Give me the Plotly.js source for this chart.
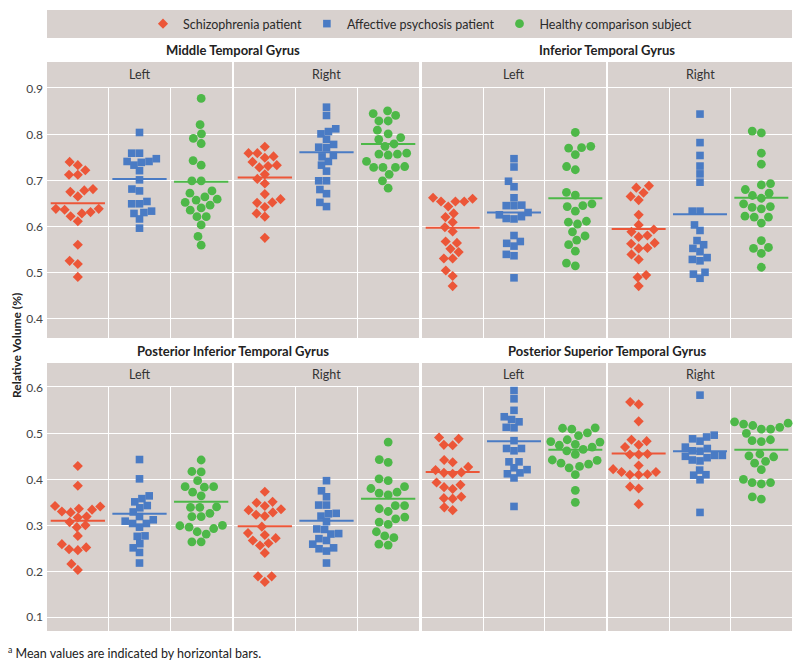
<!DOCTYPE html>
<html>
<head>
<meta charset="utf-8">
<script src="https://cdn.plot.ly/plotly-3.0.1.min.js"></script>
<style>html,body{margin:0;padding:0;background:#fff;}#chart{width:800px;height:666px;}</style>
</head>
<body>
<div id="chart"></div>
<script>
// ---------- DATA ----------
const regions = ["Middle Temporal Gyrus", "Inferior Temporal Gyrus", "Posterior Inferior Temporal Gyrus", "Posterior Superior Temporal Gyrus"];
const sides = ["Left", "Right"];
const groups = ["Schizophrenia patient", "Affective psychosis patient", "Healthy comparison subject"];
const yTicksTop = [0.4, 0.5, 0.6, 0.7, 0.8, 0.9];
const yTicksBottom = [0.1, 0.2, 0.3, 0.4, 0.5, 0.6];
const yTitle = "Relative Volume (%)";
const footnote = "<sup>a</sup> Mean values are indicated by horizontal bars.";

// Middle Temporal Gyrus
const mtgLeftSchiz = [0.740,0.733,0.722,0.712,0.712,0.681,0.678,0.675,0.665,0.638,0.638,0.636,0.631,0.628,0.622,0.611,0.560,0.525,0.518,0.490];
const mtgLeftAff = [0.804,0.759,0.759,0.747,0.741,0.741,0.739,0.733,0.721,0.701,0.681,0.677,0.654,0.649,0.649,0.633,0.630,0.628,0.616,0.596];
const mtgLeftHealthy = [0.878,0.821,0.801,0.791,0.780,0.743,0.733,0.699,0.699,0.677,0.672,0.664,0.659,0.657,0.652,0.646,0.640,0.635,0.621,0.621,0.603,0.578,0.559];
const mtgLeftMeans = [0.650, 0.703, 0.697];
const mtgRightSchiz = [0.773,0.759,0.759,0.752,0.749,0.740,0.733,0.731,0.728,0.713,0.703,0.693,0.670,0.659,0.652,0.651,0.642,0.628,0.621,0.575];
const mtgRightAff = [0.859,0.841,0.812,0.806,0.801,0.789,0.778,0.772,0.771,0.754,0.751,0.741,0.733,0.720,0.699,0.699,0.680,0.671,0.652,0.643];
const mtgRightHealthy = [0.851,0.845,0.841,0.829,0.829,0.809,0.801,0.793,0.789,0.779,0.774,0.759,0.757,0.757,0.755,0.741,0.730,0.728,0.728,0.728,0.713,0.699,0.683];
const mtgRightMeans = [0.706, 0.761, 0.779];

// Inferior Temporal Gyrus
const itgLeftSchiz = [0.662,0.660,0.654,0.654,0.654,0.643,0.628,0.620,0.609,0.598,0.589,0.567,0.564,0.551,0.544,0.530,0.530,0.504,0.492,0.470];
const itgLeftAff = [0.747,0.729,0.698,0.686,0.662,0.646,0.645,0.645,0.630,0.625,0.621,0.617,0.616,0.580,0.567,0.563,0.557,0.539,0.536,0.488];
const itgLeftHealthy = [0.804,0.774,0.771,0.770,0.756,0.730,0.723,0.674,0.668,0.649,0.645,0.643,0.633,0.611,0.609,0.605,0.588,0.579,0.570,0.560,0.546,0.520,0.514];
const itgLeftMeans = [0.597, 0.630, 0.661];
const itgRightSchiz = [0.688,0.684,0.673,0.665,0.657,0.625,0.603,0.593,0.588,0.580,0.577,0.564,0.562,0.553,0.552,0.539,0.528,0.494,0.489,0.470];
const itgRightAff = [0.844,0.782,0.754,0.731,0.714,0.696,0.633,0.633,0.603,0.591,0.569,0.560,0.552,0.545,0.532,0.528,0.525,0.500,0.496,0.487];
const itgRightHealthy = [0.807,0.803,0.759,0.735,0.693,0.690,0.680,0.672,0.667,0.661,0.649,0.643,0.641,0.638,0.622,0.620,0.620,0.607,0.569,0.554,0.552,0.541,0.511];
const itgRightMeans = [0.594, 0.626, 0.662];

// Posterior Inferior Temporal Gyrus
const pitgLeftSchiz = [0.429,0.386,0.342,0.341,0.336,0.334,0.330,0.328,0.319,0.317,0.307,0.300,0.296,0.277,0.259,0.252,0.248,0.246,0.216,0.203];
const pitgLeftAff = [0.443,0.401,0.364,0.358,0.351,0.343,0.338,0.329,0.319,0.312,0.309,0.304,0.304,0.296,0.277,0.276,0.260,0.251,0.241,0.218];
const pitgLeftHealthy = [0.442,0.417,0.416,0.397,0.384,0.384,0.383,0.372,0.364,0.340,0.339,0.339,0.326,0.319,0.319,0.300,0.299,0.296,0.293,0.286,0.281,0.264,0.264];
const pitgLeftMeans = [0.310, 0.325, 0.351];
const pitgRightSchiz = [0.373,0.351,0.349,0.342,0.335,0.333,0.328,0.323,0.320,0.297,0.283,0.279,0.272,0.267,0.261,0.256,0.240,0.189,0.189,0.177];
const pitgRightAff = [0.397,0.375,0.362,0.344,0.344,0.326,0.325,0.320,0.308,0.292,0.291,0.282,0.281,0.271,0.267,0.259,0.251,0.249,0.244,0.218];
const pitgRightHealthy = [0.481,0.443,0.437,0.401,0.397,0.384,0.380,0.372,0.370,0.366,0.343,0.343,0.336,0.330,0.318,0.314,0.307,0.302,0.286,0.277,0.273,0.259,0.257];
const pitgRightMeans = [0.298, 0.310, 0.358];

// Posterior Superior Temporal Gyrus
const pstgLeftSchiz = [0.491,0.488,0.475,0.474,0.442,0.437,0.427,0.420,0.415,0.414,0.412,0.393,0.388,0.383,0.379,0.362,0.359,0.358,0.339,0.333];
const pstgLeftAff = [0.593,0.575,0.550,0.536,0.530,0.525,0.513,0.512,0.484,0.467,0.467,0.462,0.438,0.438,0.425,0.421,0.414,0.412,0.403,0.341];
const pstgLeftHealthy = [0.512,0.511,0.509,0.501,0.495,0.486,0.482,0.481,0.476,0.474,0.470,0.465,0.462,0.454,0.442,0.441,0.435,0.433,0.428,0.425,0.410,0.376,0.350];
const pstgLeftMeans = [0.416, 0.483, 0.464];
const pstgRightSchiz = [0.568,0.563,0.526,0.486,0.483,0.475,0.470,0.455,0.454,0.454,0.430,0.422,0.416,0.416,0.411,0.410,0.410,0.384,0.380,0.346];
const pstgRightAff = [0.583,0.496,0.492,0.488,0.483,0.470,0.467,0.462,0.461,0.452,0.452,0.450,0.447,0.442,0.440,0.420,0.410,0.409,0.399,0.328];
const pstgRightHealthy = [0.525,0.522,0.520,0.517,0.513,0.509,0.509,0.500,0.486,0.484,0.482,0.455,0.451,0.449,0.439,0.435,0.421,0.400,0.393,0.393,0.390,0.362,0.357];
const pstgRightMeans = [0.456, 0.461, 0.464];

// ---------- STRUCTURE ----------
const facets = [
  {region: 0, side: 0, series: [mtgLeftSchiz, mtgLeftAff, mtgLeftHealthy], means: mtgLeftMeans},
  {region: 0, side: 1, series: [mtgRightSchiz, mtgRightAff, mtgRightHealthy], means: mtgRightMeans},
  {region: 1, side: 0, series: [itgLeftSchiz, itgLeftAff, itgLeftHealthy], means: itgLeftMeans},
  {region: 1, side: 1, series: [itgRightSchiz, itgRightAff, itgRightHealthy], means: itgRightMeans},
  {region: 2, side: 0, series: [pitgLeftSchiz, pitgLeftAff, pitgLeftHealthy], means: pitgLeftMeans},
  {region: 2, side: 1, series: [pitgRightSchiz, pitgRightAff, pitgRightHealthy], means: pitgRightMeans},
  {region: 3, side: 0, series: [pstgLeftSchiz, pstgLeftAff, pstgLeftHealthy], means: pstgLeftMeans},
  {region: 3, side: 1, series: [pstgRightSchiz, pstgRightAff, pstgRightHealthy], means: pstgRightMeans}
];

// ---------- STYLE / LAYOUT ----------
const W = 800, H = 666;
const colors = ["#ec5638", "#4a7bc4", "#4db848"];
const symbols = ["diamond", "square", "circle"];
const msize = [7.8, 7.6, 8.8];
const spacing = [8.8, 7.8, 9.3];   // swarm spacing in px
const bg = "#d8d1ce";
const fontFam = "Lato, 'Open Sans', sans-serif";
const facetPx = [[47, 232], [234, 419], [422, 606], [608, 792]];
const rowPx = [[88, 338], [387, 631]];
const rowRange = [[0.3572, 0.9007], [0.0702, 0.6007]];
const stripPx = [[62, 87], [363, 386]];
const titlePy = [50, 351];
const pxPerY = 460;

function px2x(p) { return p / W; }
function px2y(p) { return 1 - p / H; }

// beeswarm placement (pixel space) -> offsets in category units
function swarm(vals, d, pxPerX) {
  const order = vals.map((v, i) => i).sort((a, b) => vals[a] - vals[b]);
  const placed = [];
  const out = new Array(vals.length).fill(0);
  for (const i of order) {
    const y = vals[i] * pxPerY;
    const cands = [0];
    for (const p of placed) {
      const dy = Math.abs(p.y - y);
      if (dy < d) {
        const dx = Math.sqrt(d * d - dy * dy);
        cands.push(p.x + dx, p.x - dx);
      }
    }
    cands.sort((a, b) => (Math.abs(a) - Math.abs(b)) || (a - b));
    let best = 0;
    for (const c of cands) {
      if (placed.every(p => (p.x - c) ** 2 + (p.y - y) ** 2 >= d * d - 1e-6)) { best = c; break; }
    }
    placed.push({x: best, y: y});
    out[i] = best / pxPerX;
  }
  return out;
}

const traces = [];
const layout = {
  width: W, height: H,
  margin: {l: 0, r: 0, t: 0, b: 0},
  paper_bgcolor: "#ffffff",
  plot_bgcolor: bg,
  font: {family: fontFam, color: "#222"},
  showlegend: true,
  hovermode: false,
  legend: {
    orientation: "h",
    x: px2x(420), xanchor: "center",
    y: px2y(24), yanchor: "middle",
    bgcolor: "rgba(0,0,0,0)",
    font: {size: 12.5, color: "#2a2a2a", family: fontFam},
    itemwidth: 30,
    traceorder: "normal"
  },
  shapes: [],
  annotations: []
};

facets.forEach((f, k) => {
  const row = k < 4 ? 0 : 1;
  const col = k % 4;
  const xName = k === 0 ? "x" : "x" + (k + 1);
  const yName = row === 0 ? "y" : "y2";
  const xaKey = k === 0 ? "xaxis" : "xaxis" + (k + 1);
  const fp = facetPx[col];
  const pxPerX = (fp[1] - fp[0]) / 3;
  layout[xaKey] = {
    domain: [px2x(fp[0]), px2x(fp[1])],
    range: [0.5, 3.5],
    anchor: yName,
    tickvals: [1.5, 2.5],
    showticklabels: false,
    ticks: "",
    showgrid: true, gridcolor: "#ffffff", gridwidth: 1.4,
    zeroline: false, showline: false, fixedrange: true
  };
  f.series.forEach((vals, g) => {
    const offs = swarm(vals, spacing[g], pxPerX);
    traces.push({
      type: "scatter", mode: "markers",
      x: vals.map((v, i) => g + 1 + offs[i]),
      y: vals,
      xaxis: xName, yaxis: yName,
      name: groups[g], legendgroup: groups[g],
      showlegend: k === 0,
      marker: {symbol: symbols[g], size: msize[g], color: colors[g], line: {width: 0}},
      cliponaxis: false
    });
    traces.push({
      type: "scatter", mode: "lines",
      x: [g + 1 - 0.44, g + 1 + 0.44],
      y: [f.means[g], f.means[g]],
      xaxis: xName, yaxis: yName,
      showlegend: false, legendgroup: groups[g],
      line: {color: colors[g], width: 2}
    });
  });
  // strip
  const sp = stripPx[row];
  layout.shapes.push({
    type: "rect", xref: "paper", yref: "paper", layer: "below",
    x0: px2x(fp[0]), x1: px2x(fp[1]), y0: px2y(sp[1]), y1: px2y(sp[0]),
    fillcolor: bg, line: {width: 0}
  });
  layout.annotations.push({
    xref: "paper", yref: "paper", x: px2x((fp[0] + fp[1]) / 2), y: px2y((sp[0] + sp[1]) / 2),
    text: sides[f.side], showarrow: false, xanchor: "center", yanchor: "middle",
    font: {size: 12.5, color: "#333", family: fontFam}
  });
  // region title (once per region)
  if (f.side === 0) {
    const fpR = facetPx[col + 1];
    layout.annotations.push({
      xref: "paper", yref: "paper", x: px2x((fp[0] + fpR[1]) / 2), y: px2y(titlePy[row]),
      text: "<b>" + regions[f.region] + "</b>", showarrow: false, xanchor: "center", yanchor: "middle",
      font: {size: 13, color: "#222", family: fontFam}
    });
  }
});

const yCommon = {
  showgrid: true, gridcolor: "#ffffff", gridwidth: 1.4,
  zeroline: false, showline: false, ticks: "", fixedrange: true,
  tickfont: {size: 12, color: "#444", family: fontFam},
  ticklabelstandoff: 3
};
layout.yaxis = Object.assign({}, yCommon, {
  domain: [px2y(rowPx[0][1]), px2y(rowPx[0][0])],
  range: rowRange[0], anchor: "x",
  tickvals: yTicksTop, ticktext: yTicksTop.map(v => v.toFixed(1))
});
layout.yaxis2 = Object.assign({}, yCommon, {
  domain: [px2y(rowPx[1][1]), px2y(rowPx[1][0])],
  range: rowRange[1], anchor: "x5",
  tickvals: yTicksBottom, ticktext: yTicksBottom.map(v => v.toFixed(1))
});

// legend box
layout.shapes.push({
  type: "rect", xref: "paper", yref: "paper", layer: "below",
  x0: px2x(47), x1: px2x(792), y0: px2y(38), y1: px2y(10),
  fillcolor: bg, line: {width: 0}
});
// y-axis title
layout.annotations.push({
  xref: "paper", yref: "paper", x: px2x(17), y: px2y(346),
  text: "<b>" + yTitle + "</b>", textangle: -90, showarrow: false,
  xanchor: "center", yanchor: "middle",
  font: {size: 12, color: "#222", family: fontFam}
});
// footnote
layout.annotations.push({
  xref: "paper", yref: "paper", x: px2x(6), y: px2y(652),
  text: footnote, showarrow: false, xanchor: "left", yanchor: "middle",
  font: {size: 12.5, color: "#222", family: fontFam}
});

Plotly.newPlot("chart", traces, layout, {staticPlot: true, displayModeBar: false});
</script>
</body>
</html>
